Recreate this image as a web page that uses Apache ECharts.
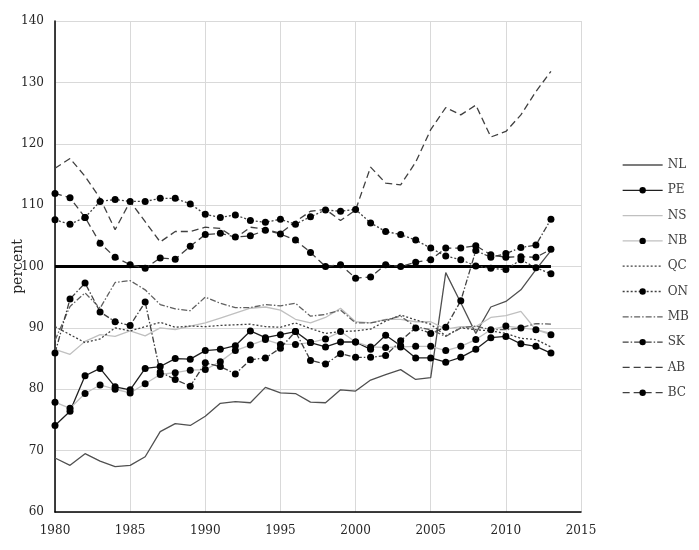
<!DOCTYPE html>
<html>
<head>
<meta charset="utf-8">
<script src="https://cdn.jsdelivr.net/npm/echarts@6/dist/echarts.min.js"></script>
<style>
html,body{margin:0;padding:0;background:#fff;}
#chart{width:699px;height:550px;}
</style>
</head>
<body>
<div id="chart"></div>
<script>
var years = [1980,1981,1982,1983,1984,1985,1986,1987,1988,1989,1990,1991,1992,1993,1994,1995,1996,1997,1998,1999,2000,2001,2002,2003,2004,2005,2006,2007,2008,2009,2010,2011,2012,2013];

var NL = [68.8,67.6,69.5,68.3,67.4,67.6,69.0,73.1,74.4,74.1,75.6,77.7,78.0,77.8,80.3,79.4,79.3,77.9,77.8,79.9,79.7,81.5,82.4,83.2,81.6,81.9,99.0,94.1,89.1,93.4,94.3,96.2,99.5,102.6];
var PE = [74.1,76.4,82.2,83.4,80.4,79.9,83.4,83.7,85.0,84.9,86.3,86.5,87.1,89.5,88.4,88.9,89.4,87.6,86.9,87.7,87.7,86.5,88.8,87.1,85.1,85.1,84.4,85.2,86.5,88.4,88.6,87.4,87.0,85.9];
var NS = [86.5,85.7,87.8,88.9,88.6,89.5,88.7,90.0,89.7,90.3,90.8,91.6,92.4,93.2,93.4,92.9,91.4,90.8,91.7,93.2,91.0,90.8,91.4,91.4,91.0,91.0,89.8,90.2,90.2,91.7,92.0,92.7,89.7,89.1];
var NB = [77.9,76.9,79.3,80.7,80.0,79.4,80.9,82.4,82.7,83.1,83.2,84.5,86.3,87.2,88.1,87.3,87.3,87.6,88.2,89.4,87.7,86.9,86.8,86.9,87.0,87.0,86.3,87.0,88.1,89.7,90.3,90.0,89.7,88.9];
var QC = [90.2,88.9,87.6,88.2,90.0,89.5,90.2,90.9,90.1,90.3,90.2,90.4,90.5,90.6,90.2,90.1,90.8,89.9,89.1,89.4,89.5,89.8,91.1,92.1,91.3,90.6,88.7,90.0,89.7,89.5,89.1,88.3,88.1,86.9];
var ON = [107.6,106.9,108.0,110.6,110.9,110.6,110.6,111.1,111.1,110.2,108.5,108.0,108.4,107.5,107.2,107.7,106.9,108.1,109.2,109.0,109.3,107.1,105.7,105.2,104.3,103.0,101.7,101.1,100.1,99.7,99.5,101.1,99.8,98.8];
var MB = [88.0,93.5,95.7,93.2,97.4,97.7,96.2,93.8,93.1,92.8,95.0,94.0,93.3,93.3,93.8,93.6,94.0,91.9,92.2,92.9,90.8,90.8,91.3,91.9,90.2,89.7,88.6,90.0,90.3,89.7,89.7,90.0,90.7,90.6];
var SK = [85.9,94.7,97.3,92.6,91.0,90.4,94.2,82.8,81.6,80.5,84.3,83.7,82.5,84.8,85.1,86.7,89.4,84.7,84.1,85.8,85.2,85.2,85.5,87.9,90.0,89.1,90.1,94.4,102.6,101.5,102.1,103.1,103.5,107.7];
var AB = [116.0,117.6,114.7,111.1,106.0,110.6,107.3,104.0,105.7,105.7,106.4,106.2,104.6,106.4,106.1,105.4,107.3,109.0,109.3,107.5,109.2,116.2,113.6,113.3,117.0,122.3,125.9,124.7,126.3,121.1,122.0,124.7,128.5,131.8];
var BC = [111.9,111.2,108.0,103.8,101.5,100.3,99.7,101.4,101.2,103.3,105.2,105.4,104.8,105.0,105.9,105.3,104.3,102.3,100.0,100.3,98.1,98.3,100.3,100.0,100.7,101.1,103.0,103.0,103.4,101.9,101.5,101.6,101.5,102.8];
var REF = [100,100,100,100,100,100,100,100,100,100,100,100,100,100,100,100,100,100,100,100,100,100,100,100,100,100,100,100,100,100,100,100,100,100];

var xTicks = {min: 1980, max: 2015, interval: 5};
var yTicks = {min: 60, max: 140, interval: 10};

var FONT = 'DejaVu Serif';
function pairs(arr){ return years.map(function(y,i){ return [y, arr[i]]; }); }

var DOT = [2, 2];
var DASH = [7, 4];
var DASHDOT = [6, 2, 1.5, 2];

var specs = [
  ['NL', NL, '#505050', 'solid', false],
  ['PE', PE, '#202020', 'solid', true],
  ['NS', NS, '#c0c0c0', 'solid', false],
  ['NB', NB, '#c0c0c0', 'solid', true],
  ['QC', QC, '#404040', DOT, false],
  ['ON', ON, '#404040', DOT, true],
  ['MB', MB, '#606060', DASHDOT, false],
  ['SK', SK, '#404040', DASHDOT, true],
  ['AB', AB, '#404040', DASH, false],
  ['BC', BC, '#404040', DASH, true]
];

var series = specs.map(function(s){
  return {
    name: s[0], type: 'line', data: pairs(s[1]),
    symbol: s[4] ? 'circle' : 'none',
    symbolSize: 7,
    showSymbol: s[4],
    itemStyle: {color: '#000'},
    lineStyle: {color: s[2], width: 1.3, type: s[3]},
    z: s[4] ? 3 : 2,
    silent: true
  };
});
series.push({name: 'ref', type: 'line', data: pairs(REF), symbol: 'none',
  lineStyle: {color: '#000', width: 3}, z: 1, silent: true});

var legendData = specs.map(function(s){
  return {
    name: s[0],
    itemStyle: {color: '#000', opacity: s[4] ? 1 : 0, borderWidth: 0},
    lineStyle: {color: s[2], width: 1.3, type: s[3], opacity: 1}
  };
});

var chart = echarts.init(document.getElementById('chart'), null, {renderer: 'canvas'});
chart.setOption({
  animation: false,
  backgroundColor: '#fff',
  grid: {left: 55, right: 118, top: 21, bottom: 38, containLabel: false, outerBoundsMode: 'none'},
  legend: {
    data: legendData,
    orient: 'vertical', left: 617, top: 154,
    itemWidth: 40, itemHeight: 8, itemGap: 13.3,
    textStyle: {fontFamily: FONT, fontSize: 12, color: '#404040'},
    selectedMode: false
  },
  xAxis: {
    type: 'value', min: xTicks.min, max: xTicks.max, interval: xTicks.interval,
    axisLine: {lineStyle: {color: '#000', width: 1.5}},
    axisTick: {show: false},
    splitLine: {lineStyle: {color: '#d9d9d9', width: 1}},
    axisLabel: {fontFamily: FONT, fontSize: 12, color: '#262626', margin: 13,
      formatter: function(v){ return String(v); }}
  },
  yAxis: {
    type: 'value', min: yTicks.min, max: yTicks.max, interval: yTicks.interval,
    name: 'percent', nameLocation: 'middle', nameRotate: 90, nameGap: 30,
    nameMoveOverlap: false,
    nameTextStyle: {fontFamily: FONT, fontSize: 14, color: '#262626'},
    axisLine: {show: true, lineStyle: {color: '#000', width: 1.5}},
    axisTick: {show: false},
    splitLine: {lineStyle: {color: '#d9d9d9', width: 1}},
    axisLabel: {fontFamily: FONT, fontSize: 12, color: '#262626', margin: 11}
  },
  series: series
});
</script>
</body>
</html>
